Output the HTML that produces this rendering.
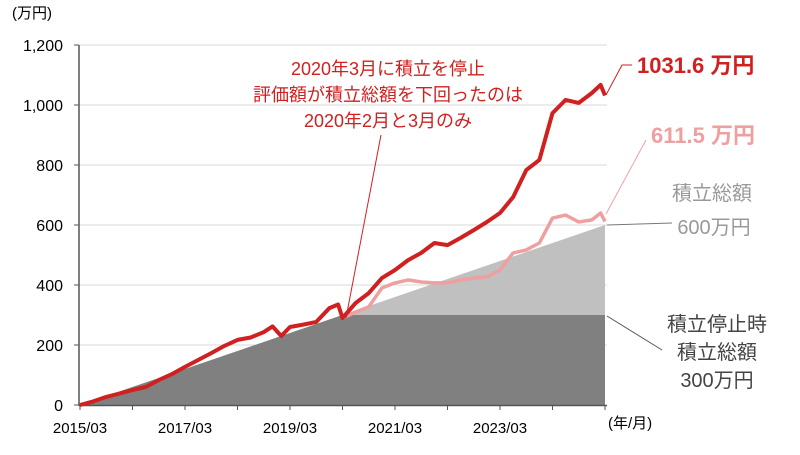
<!DOCTYPE html>
<html><head><meta charset="utf-8"><style>
body{margin:0;background:#fff}
svg text{font-family:"Liberation Sans","Noto Sans CJK JP",sans-serif}
</style></head><body>
<svg id="c" width="800" height="450" xmlns="http://www.w3.org/2000/svg"></svg>
<script>
const yTicks=[0,200,400,600,800,1000,1200];
const xTickMonths=[0,24,48,72,96];
const xTickLabels=["2015/03","2017/03","2019/03","2021/03","2023/03"];
const redMonths=[0,3,6,9,12,15,18,21,24,27,30,33,36,39,42,44,46,48,51,54,57,59,60,63,66,69,72,75,78,81,84,87,90,93,96,99,102,105,108,111,114,117,119,120];
const redValues=[0,12,27,38,50,60,83,103,127,150,173,197,217,225,243,262,230,260,268,277,323,335,290,340,373,423,450,483,507,540,533,557,583,610,640,693,783,817,973,1017,1007,1040,1067,1031.6];
const pinkMonths=[60,63,66,69,72,75,78,81,84,87,90,93,96,99,102,105,108,111,114,117,119,120];
const pinkValues=[290,310,327,390,407,417,410,407,407,417,423,427,450,507,517,540,623,633,610,617,640,611.5];
const monthlyContribution=5, stopMonth=60, totalMonths=120;

const svg=document.getElementById('c');
const NS='http://www.w3.org/2000/svg';
const X=m=>80+m*525/120;
const Y=v=>405-v*0.3;
function mk(t,a,txt){const e=document.createElementNS(NS,t);for(const k in a)e.setAttribute(k,a[k]);if(txt!==undefined)e.textContent=txt;svg.appendChild(e);return e;}

yTicks.forEach(v=>{if(v>0){const g=mk('line',{x1:80,x2:607,y1:Y(v),y2:Y(v),stroke:'#d9d9d9','stroke-width':1});

}
const t=mk('text',{x:63,y:Y(v)+6,'text-anchor':'end','font-size':16,fill:'#000'},v.toLocaleString('en-US'));

});

let lp=[];for(let m=0;m<=totalMonths;m++)lp.push(X(m)+','+Y(m*monthlyContribution));
const la=mk('polygon',{points:X(0)+','+Y(0)+' '+lp.join(' ')+' '+X(totalMonths)+','+Y(0),fill:'#c0c0c0'});


let dp=[];for(let m=0;m<=totalMonths;m++)dp.push(X(m)+','+Y(Math.min(m,stopMonth)*monthlyContribution));
const da=mk('polygon',{points:X(0)+','+Y(0)+' '+dp.join(' ')+' '+X(totalMonths)+','+Y(0),fill:'#808080'});



const ya=mk('line',{x1:79,x2:79,y1:45,y2:406,stroke:'#555','stroke-width':1.5});


const xa=mk('line',{x1:79,x2:607,y1:405.5,y2:405.5,stroke:'#555','stroke-width':1.5});


yTicks.forEach(v=>{mk('line',{x1:74,x2:79,y1:Y(v),y2:Y(v),stroke:'#555'});});
for(let m=0;m<=totalMonths;m+=12)mk('line',{x1:X(m),x2:X(m),y1:405,y2:410,stroke:'#555'});
xTickMonths.forEach((m,i)=>{const t=mk('text',{x:X(m),y:433,'text-anchor':'middle','font-size':15},xTickLabels[i]);

});

const pk=mk('polyline',{points:pinkMonths.map((m,i)=>X(m)+','+Y(pinkValues[i])).join(' '),fill:'none',stroke:'#eea0a0','stroke-width':3.5,'stroke-linejoin':'round'});


const rd=mk('polyline',{points:redMonths.map((m,i)=>X(m)+','+Y(redValues[i])).join(' '),fill:'none',stroke:'#d02020','stroke-width':4,'stroke-linejoin':'round'});


</script>
<svg width="800" height="450" style="position:absolute;left:0;top:0">
<text x="12" y="18" font-size="15">(万円)</text>
<text x="608" y="428" font-size="15">(年/月)</text>
<g fill="#d02020" font-size="18" text-anchor="middle">
<text x="388" y="75">2020年3月に積立を停止</text>
<text x="388" y="101">評価額が積立総額を下回ったのは</text>
<text x="388" y="127">2020年2月と3月のみ</text></g>
<line x1="381" y1="135" x2="346" y2="318" stroke="#d02020" stroke-width="1"/>
<polyline points="606,95 622,65 632,65" fill="none" stroke="#d02020"/>
<text x="637" y="73" font-size="22" font-weight="bold" fill="#d02020">1031.6 万円</text>
<polyline points="606,214 646,140" fill="none" stroke="#eea0a0"/>
<text x="651" y="143" font-size="22" font-weight="bold" fill="#eea0a0">611.5 万円</text>
<line x1="607" y1="225" x2="672" y2="223" stroke="#777"/>
<g fill="#999" font-size="20" text-anchor="middle"><text x="712" y="200">積立総額</text><text x="714" y="234">600万円</text></g>
<line x1="607" y1="316" x2="662" y2="350" stroke="#555"/>
<g fill="#444" font-size="20" text-anchor="middle"><text x="717" y="331">積立停止時</text><text x="717" y="359">積立総額</text><text x="717" y="387">300万円</text></g>
</svg>
</body></html>
